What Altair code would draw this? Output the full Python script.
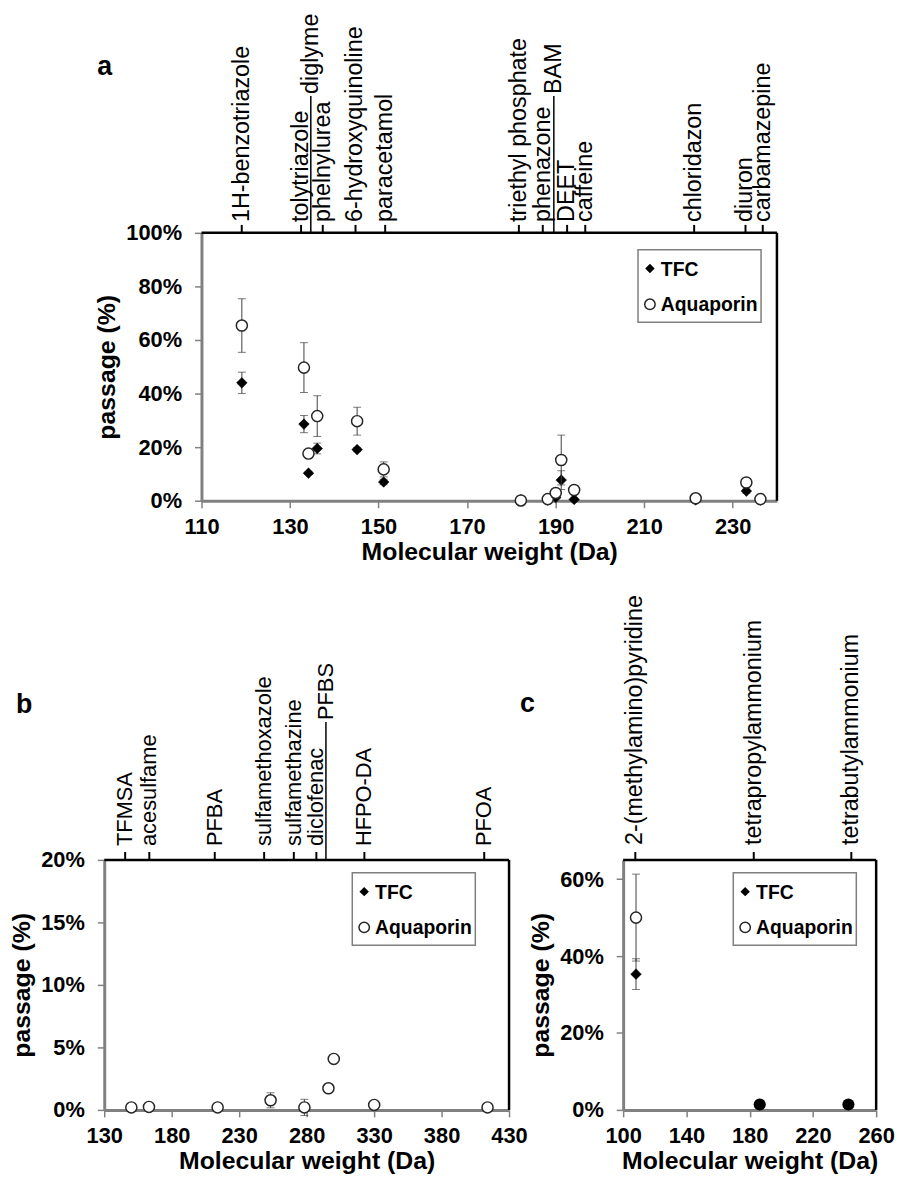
import altair as alt
import pandas as pd

FONT = "Liberation Sans"

# ---------------- panel a ----------------
a_names = ["1H-benzotriazole", "tolytriazole", "diglyme", "phelnylurea", "6-hydroxyquinoline",
           "paracetamol", "triethyl phosphate", "phenazone", "BAM", "DEET", "caffeine",
           "chloridazon", "diuron", "carbamazepine"]
a_label_mw = [119.1, 132.5, 134.7, 137.4, 144.8, 151.5, 181.7, 187.1, 189.6, 192.6, 196.7, 221.3, 232.9, 236.8]
a_leader = ["diglyme", "BAM"]
a_mw = [119.12, 133.15, 134.17, 136.15, 145.16, 151.16, 182.15, 188.23, 190.03, 191.27, 194.19, 221.64, 233.09, 236.27]
a_tfc = [44.0, 28.6, 10.3, 19.5, 19.1, 7.0, 0.3, 0.3, 1.2, 7.7, 0.5, 0.3, 3.6, 0.3]
a_tfc_err = [4.0, 3.2, 0.5, 2.0, 0.8, 1.0, 0.1, 0.1, 0.5, 3.5, 0.1, 0.1, 0.8, 0.1]
a_aqp = [65.4, 49.7, 17.6, 31.6, 29.7, 11.7, 0.1, 0.6, 2.9, 15.2, 4.0, 0.9, 6.8, 0.6]
a_aqp_err = [10.0, 9.3, 0.8, 7.6, 5.2, 2.8, 0.3, 0.3, 0.8, 9.3, 0.5, 0.3, 1.2, 0.3]
a_xticks = [110, 130, 150, 170, 190, 210, 230]
a_yticks = [0, 20, 40, 60, 80, 100]

# ---------------- panel b ----------------
b_names = ["TFMSA", "acesulfame", "PFBA", "sulfamethoxazole", "sulfamethazine", "diclofenac",
           "PFBS", "HFPO-DA", "PFOA"]
b_label_mw = [145.5, 163.4, 211.9, 248.5, 270.5, 287.2, 294.3, 322.8, 411.6]
b_leader = ["PFBS"]
b_mw = [150.08, 163.15, 214.04, 253.28, 278.33, 296.15, 300.10, 330.05, 414.07]
b_aqp = [0.2, 0.24, 0.2, 0.77, 0.2, 1.73, 4.08, 0.4, 0.2]
b_aqp_err = [0.05, 0.05, 0.05, 0.6, 0.65, 0.05, 0.05, 0.05, 0.05]
b_xticks = [130, 180, 230, 280, 330, 380, 430]
b_yticks = [0, 5, 10, 15, 20]

# ---------------- panel c ----------------
c_names = ["2-(methylamino)pyridine", "tetrapropylammonium", "tetrabutylammonium"]
c_label_mw = [107.7, 182.6, 244.3]
c_leader = []
c_mw = [108.14]
c_tfc = [35.3]
c_tfc_err = [4.0]
c_aqp = [50.0]
c_aqp_err = [11.3]
c_quat_mw = [186.36, 242.46]
c_quat_val = [1.4, 1.4]
c_xticks = [100, 140, 180, 220, 260]
c_yticks = [0, 20, 40, 60]

ONE = pd.DataFrame({"k": [0]})
AXIS_GRAY = "#808080"


def axes(xticks, yticks, xtitle="Molecular weight (Da)", ytitle="passage (%)"):
    xax = alt.Axis(values=xticks, format="d", labelFont=FONT, labelFontSize=22, labelFontWeight="bold",
                   labelColor="black", tickColor=AXIS_GRAY, tickSize=7, tickWidth=1.5,
                   domainColor=AXIS_GRAY, domainWidth=3, labelPadding=9, labelFlush=False,
                   labelOverlap=False, title=xtitle, titleFont=FONT, titleFontSize=25,
                   titleFontWeight="bold", titleColor="black", titlePadding=2, grid=False)
    yax = alt.Axis(values=yticks, labelExpr="datum.value + '%'", labelFont=FONT, labelFontSize=22,
                   labelFontWeight="bold", labelColor="black", tickColor=AXIS_GRAY, tickSize=7,
                   tickWidth=1.5, domainColor=AXIS_GRAY, domainWidth=3, labelPadding=13,
                   labelFlush=False, labelOverlap=False, title=ytitle, titleFont=FONT,
                   titleFontSize=25, titleFontWeight="bold", titleColor="black", titlePadding=6,
                   grid=False)
    return xax, yax


def series_layers(df, field, err_field, xs, ys, xax, yax, kind):
    d = df.copy()
    d["lo"] = d[field] - d[err_field]
    d["hi"] = d[field] + d[err_field]
    base = alt.Chart(d)
    X = alt.X("mw:Q", scale=xs, axis=xax)
    rule = base.mark_rule(color="#404040", strokeWidth=1).encode(
        x=X, y=alt.Y("lo:Q", scale=ys, axis=yax), y2="hi:Q")
    cap_hi = base.mark_tick(orient="horizontal", size=8, thickness=1, color="#404040").encode(
        x=X, y=alt.Y("hi:Q", scale=ys, axis=yax))
    cap_lo = base.mark_tick(orient="horizontal", size=8, thickness=1, color="#404040").encode(
        x=X, y=alt.Y("lo:Q", scale=ys, axis=yax))
    if kind == "tfc":
        pts = base.mark_point(shape="diamond", filled=True, fill="black", stroke="black",
                              strokeWidth=0.5, size=115, opacity=1)
    else:
        pts = base.mark_point(shape="circle", filled=True, fill="white", stroke="#262626",
                              strokeWidth=1.5, size=125, opacity=1)
    pts = pts.encode(x=X, y=alt.Y(field + ":Q", scale=ys, axis=yax))
    return [rule, cap_hi, cap_lo, pts]


def top_label_layers(names, pos, leaders, xs, xax, fsize, lab_y, lead_y):
    df = pd.DataFrame({"name": names, "pos": pos})
    lead_expr = "indexof(" + str(list(leaders)) + ", datum.name) >= 0"
    base = alt.Chart(df)
    normal = base.transform_filter("!(" + lead_expr + ")")
    lead = base.transform_filter(lead_expr)
    x = alt.X("pos:Q", scale=xs, axis=xax)
    layers = [
        normal.mark_rule(color="black", strokeWidth=2).encode(x=x, y=alt.value(-8), y2=alt.value(0)),
        normal.mark_text(angle=270, align="left", baseline="middle", font=FONT, fontSize=fsize,
                         color="black").encode(x=x, y=alt.value(lab_y), text="name:N"),
    ]
    if leaders:
        layers += [
            lead.mark_rule(color="black", strokeWidth=1.5).encode(x=x, y=alt.value(lead_y), y2=alt.value(0)),
            lead.mark_text(angle=270, align="left", baseline="middle", font=FONT, fontSize=fsize,
                           color="black").encode(x=x, y=alt.value(lead_y - 2), text="name:N"),
        ]
    return layers


def legend_layers(lx, ly):
    b = alt.Chart(ONE)
    return [
        b.mark_rect(fill="white", stroke="#7f7f7f", strokeWidth=1.5).encode(
            x=alt.value(lx), x2=alt.value(lx + 124), y=alt.value(ly), y2=alt.value(ly + 73)),
        b.mark_point(shape="diamond", filled=True, fill="black", size=90, opacity=1).encode(
            x=alt.value(lx + 12), y=alt.value(ly + 19)),
        b.mark_point(shape="circle", filled=True, fill="white", stroke="#262626", strokeWidth=1.5,
                     size=110, opacity=1).encode(x=alt.value(lx + 12), y=alt.value(ly + 55)),
        b.mark_text(align="left", baseline="middle", font=FONT, fontSize=19.5, fontWeight="bold",
                    color="black").encode(x=alt.value(lx + 23), y=alt.value(ly + 20), text=alt.value("TFC")),
        b.mark_text(align="left", baseline="middle", font=FONT, fontSize=19.5, fontWeight="bold",
                    color="black").encode(x=alt.value(lx + 23), y=alt.value(ly + 56), text=alt.value("Aquaporin")),
    ]


def frame_layers(w, h):
    b = alt.Chart(ONE)
    return [
        b.mark_rule(color="black", strokeWidth=2.5).encode(x=alt.value(0), x2=alt.value(w), y=alt.value(0)),
        b.mark_rule(color="black", strokeWidth=2.5).encode(x=alt.value(w), y=alt.value(0), y2=alt.value(h)),
    ]


def letter_layer(txt, lx, ly):
    return alt.Chart(ONE).mark_text(align="left", baseline="alphabetic", font=FONT, fontSize=27,
                                    fontWeight="bold", color="black").encode(
        x=alt.value(lx), y=alt.value(ly), text=alt.value(txt))


def anchor(px, py):
    # invisible white dot used only to pin the page layout
    return alt.Chart(ONE).mark_rule(color="white", strokeWidth=0.5).encode(
        x=alt.value(px), x2=alt.value(px + 0.5), y=alt.value(py))


# page coordinates of the plot areas
A_X, A_Y, AW, AH = 202, 226, 580, 270
B_X, B_Y, BW, BH = 104, 856, 408, 252
C_X, CW, CH = 627, 255, 252
ROW_SPLIT = 585  # page y between the two rows

# ---------- build panel a ----------
xs_a = alt.Scale(domain=[110, 240], nice=False, zero=False)
ys_a = alt.Scale(domain=[0, 100], nice=False, zero=False)
xax_a, yax_a = axes(a_xticks, a_yticks)
df_a = pd.DataFrame({"mw": a_mw, "tfc": a_tfc, "tfc_err": a_tfc_err, "aqp": a_aqp, "aqp_err": a_aqp_err})
layers_a = []
layers_a += series_layers(df_a, "tfc", "tfc_err", xs_a, ys_a, xax_a, yax_a, "tfc")
layers_a += series_layers(df_a, "aqp", "aqp_err", xs_a, ys_a, xax_a, yax_a, "aqp")
layers_a += top_label_layers(a_names, a_label_mw, a_leader, xs_a, xax_a, 23.5, -11, -138)
layers_a += legend_layers(440, 17)
layers_a += frame_layers(AW, AH)
layers_a.append(letter_layer("a", -105, -159))
layers_a.append(anchor(8 - A_X, 8 - A_Y))
layers_a.append(anchor(8 - A_X, ROW_SPLIT - A_Y))
panel_a = alt.layer(*layers_a).properties(width=AW, height=AH)

# ---------- build panel b ----------
xs_b = alt.Scale(domain=[130, 430], nice=False, zero=False)
ys_b = alt.Scale(domain=[0, 20], nice=False, zero=False)
xax_b, yax_b = axes(b_xticks, b_yticks)
df_b = pd.DataFrame({"mw": b_mw, "aqp": b_aqp, "aqp_err": b_aqp_err})
layers_b = []
layers_b += series_layers(df_b, "aqp", "aqp_err", xs_b, ys_b, xax_b, yax_b, "aqp")
layers_b += top_label_layers(b_names, b_label_mw, b_leader, xs_b, xax_b, 22, -14, -139)
layers_b += legend_layers(250, 13)
layers_b += frame_layers(BW, BH)
layers_b.append(letter_layer("b", -89, -148))
layers_b.append(anchor(8 - B_X, ROW_SPLIT - B_Y))
panel_b = alt.layer(*layers_b).properties(width=BW, height=BH)

# ---------- build panel c ----------
xs_c = alt.Scale(domain=[100, 260], nice=False, zero=False)
ys_c = alt.Scale(domain=[0, 65], nice=False, zero=False)
xax_c, yax_c = axes(c_xticks, c_yticks)
df_c = pd.DataFrame({"mw": c_mw, "tfc": c_tfc, "tfc_err": c_tfc_err, "aqp": c_aqp, "aqp_err": c_aqp_err})
df_q = pd.DataFrame({"mw": c_quat_mw, "val": c_quat_val})
layers_c = []
layers_c += series_layers(df_c, "tfc", "tfc_err", xs_c, ys_c, xax_c, yax_c, "tfc")
layers_c += series_layers(df_c, "aqp", "aqp_err", xs_c, ys_c, xax_c, yax_c, "aqp")
layers_c.append(alt.Chart(df_q).mark_point(shape="circle", filled=True, fill="black", size=150, opacity=1).encode(
    x=alt.X("mw:Q", scale=xs_c, axis=xax_c), y=alt.Y("val:Q", scale=ys_c, axis=yax_c)))
layers_c += top_label_layers(c_names, c_label_mw, c_leader, xs_c, xax_c, 23.5, -15, -140)
layers_c += legend_layers(111, 13)
layers_c += frame_layers(CW, CH)
layers_c.append(letter_layer("c", -104, -149))
panel_c = alt.layer(*layers_c).properties(width=CW, height=CH)

spacer = alt.Chart(ONE).mark_point(opacity=0).encode(x=alt.value(0), y=alt.value(0)).properties(
    width=A_X - B_X, height=AH)

row1 = alt.hconcat(spacer, panel_a, spacing=0, bounds="flush")
row2 = alt.hconcat(panel_b, panel_c, spacing=C_X - B_X - BW, bounds="flush")
chart = alt.vconcat(row1, row2, spacing=0, bounds="full").properties(padding=0).configure_view(
    stroke="transparent")

chart.save("out.html", embed_options={"renderer": "svg", "actions": False})
